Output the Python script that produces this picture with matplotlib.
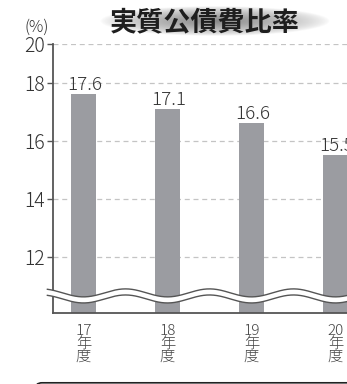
import numpy as np
import matplotlib
matplotlib.use('Agg')
import matplotlib.pyplot as plt
from matplotlib.patches import FancyBboxPatch

# Data
years = ['17', '18', '19', '20']
ratios = [17.6, 17.1, 16.6, 15.5]
yticks = [12, 14, 16, 18, 20]
title = '実質公債費比率'
unit = '(%)'

plt.rcParams['font.family'] = ['Noto Sans CJK JP', 'DejaVu Sans']

W, H = 347, 384
fig = plt.figure(figsize=(W / 100, H / 100), dpi=100)


def fx(px):
    return px / W


def fy(py):
    return 1 - py / H


TEXT = '#333333'
AXIS = '#555555'

# Main axes (runs past the right edge of the figure)
ax = fig.add_axes([fx(53), fy(313), fx(420) - fx(53), fy(44) - fy(313)])

# The band above 18 is drawn compressed
K = 39 / 58


def fwd(y):
    y = np.asarray(y, float)
    return np.where(y <= 18, y, 18 + (y - 18) * K)


def inv(z):
    z = np.asarray(z, float)
    return np.where(z <= 18, z, 18 + (z - 18) / K)


ax.set_yscale('function', functions=(fwd, inv))

x = np.arange(len(years))
ax.bar(x, ratios, width=0.30, color='#9b9ca1', zorder=2)

for xi, v in zip(x, ratios):
    ax.annotate(f'{v}', (xi, v), xytext=(1, 3), textcoords='offset points',
                ha='center', va='baseline', fontsize=13.5, color=TEXT,
                fontweight='light', annotation_clip=False)

# Wavy break near the bottom of the value axis
xs = np.linspace(-0.43, 4.1, 800)
yc, amp, half = 10.64, 0.138, 0.105
wave = -amp * np.cos(2 * np.pi * xs)
upper = yc + half + wave
lower = yc - half + wave
ax.fill_between(xs, lower, upper, color='white', lw=0, zorder=4, clip_on=False)
ax.plot(xs, upper, color=AXIS, lw=1.0, zorder=5, clip_on=False)
ax.plot(xs, lower, color=AXIS, lw=1.0, zorder=5, clip_on=False)

ax.set_xlim(-0.363, 4.006)
ax.set_ylim(10.05, 20)

ax.set_yticks(yticks)
ax.set_yticklabels([str(t) for t in yticks], fontweight='light')
ax.yaxis.grid(True, ls=(0, (4, 3)), color='#c4c4c4', lw=0.9)
ax.set_axisbelow(True)

ax.set_xticks(x)
ax.set_xticklabels([f'{y}\n年\n度' for y in years], fontweight='light')
for t in ax.get_xticklabels():
    t.set_linespacing(0.9)

for s in ('top', 'right'):
    ax.spines[s].set_visible(False)
for s in ('left', 'bottom'):
    ax.spines[s].set_color(AXIS)
    ax.spines[s].set_linewidth(1.3)

ax.tick_params(axis='y', length=4, width=1, color=AXIS, pad=2,
               labelsize=14, labelcolor=TEXT)
ax.tick_params(axis='x', length=0, pad=8, labelsize=11, labelcolor='#444444')

# Title with a soft grey oval behind it
gax = fig.add_axes([fx(100), fy(36), fx(330) - fx(100), fy(6) - fy(36)])
gx = np.linspace(-1, 1, 400)
gy = np.linspace(-1, 1, 80)
X, Y = np.meshgrid(gx, gy)
R = np.sqrt(X ** 2 + Y ** 2)
img = np.zeros((gy.size, gx.size, 4))
img[..., :3] = 0.45
img[..., 3] = 0.85 * np.clip(1 - R, 0, 1) ** 0.7
gax.imshow(img, extent=(0, 1, 0, 1), aspect='auto', interpolation='bilinear')
gax.axis('off')

fig.text(fx(205), fy(22.5), title, ha='center', va='center', fontsize=19.5,
         fontweight='bold', color='#1e1e1e')
fig.text(fx(37), fy(27.5), unit, ha='center', va='center', fontsize=11.5,
         color=TEXT, fontweight='light')

# Top edge of the panel below
fig.add_artist(FancyBboxPatch((0.35, -0.5), 4.0, 0.512,
                              boxstyle='round,pad=0,rounding_size=0.07',
                              transform=fig.dpi_scale_trans, fill=False,
                              ec='#222222', lw=1.2))

fig.savefig('out.png', dpi=100)
